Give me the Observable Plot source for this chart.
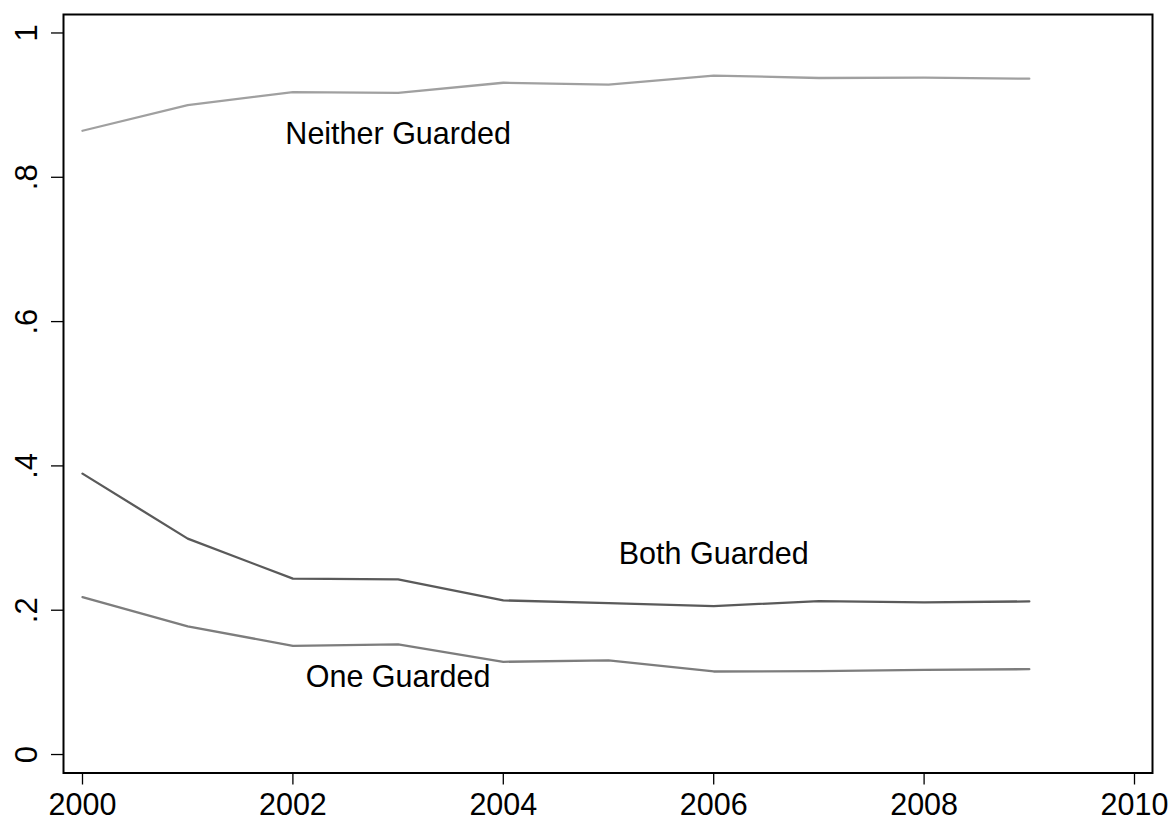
<!DOCTYPE html>
<html>
<head>
<meta charset="utf-8">
<script src="https://cdn.jsdelivr.net/npm/d3@7"></script>
<script src="https://cdn.jsdelivr.net/npm/@observablehq/plot@0.6"></script>
<style>
  html, body { margin: 0; padding: 0; background: #fff; }
</style>
</head>
<body>
<div id="chart"></div>
<script>
// ---- data ----
const years = [2000, 2001, 2002, 2003, 2004, 2005, 2006, 2007, 2008, 2009];
const neitherGuarded = [0.8645, 0.900, 0.918, 0.917, 0.931, 0.9285, 0.941, 0.9376, 0.938, 0.9366];
const bothGuarded    = [0.3893, 0.2992, 0.2437, 0.2427, 0.2136, 0.2099, 0.2057, 0.2127, 0.2108, 0.2122];
const oneGuarded     = [0.2182, 0.1775, 0.1507, 0.1526, 0.1285, 0.1304, 0.1151, 0.1156, 0.1174, 0.1183];

const seriesNames = ["Neither Guarded", "Both Guarded", "One Guarded"];
const seriesValues = [neitherGuarded, bothGuarded, oneGuarded];

const labelText  = ["Neither Guarded", "Both Guarded", "One Guarded"];
const labelYear  = [2003, 2006, 2003];
const labelValue = [0.8602, 0.2777, 0.1068];

const xTicks = [2000, 2002, 2004, 2006, 2008, 2010];
const yTicks = [0, 0.2, 0.4, 0.6, 0.8, 1];
const yTickLabels = ["0", ".2", ".4", ".6", ".8", "1"];

// ---- derived tables ----
const rows = [];
seriesNames.forEach((s, i) => {
  years.forEach((yr, j) => rows.push({series: s, year: yr, value: seriesValues[i][j]}));
});
const labels = labelText.map((t, i) => ({text: t, year: labelYear[i], value: labelValue[i]}));
const yLab = yTicks.map((v, i) => ({value: v, label: yTickLabels[i]}));

const seriesColors = ["#a0a0a0", "#5a5a5a", "#7d7d7d"];

const chart = Plot.plot({
  width: 1173,
  height: 821,
  marginLeft: 63,
  marginRight: 21,
  marginTop: 14,
  marginBottom: 48.5,
  style: {fontFamily: "'Liberation Sans', Arial, sans-serif", fontSize: "30px", color: "black", background: "white"},
  x: {domain: [2000 - 19 / 105.2, 2010 + 18 / 105.2]},
  y: {domain: [-0.0256, 1.0256]},
  color: {domain: seriesNames, range: seriesColors},
  marks: [
    Plot.line(rows, {x: "year", y: "value", z: "series", stroke: "series", strokeWidth: 2.3}),
    Plot.text(labels, {x: "year", y: "value", text: "text", fill: "black", fontSize: 30.5, textAnchor: "middle", lineAnchor: "middle"}),
    Plot.frame({stroke: "black", strokeWidth: 2}),
    Plot.axisX({ticks: xTicks, tickSize: 12, tickPadding: 8, tickFormat: d => String(d), label: null, strokeWidth: 1.3, fontSize: 30.5}),
    Plot.axisY({ticks: yTicks, tickSize: 12, tickFormat: () => "", label: null, strokeWidth: 1.3}),
    Plot.text(yLab, {y: "value", text: "label", frameAnchor: "left", dx: -36, rotate: -90, textAnchor: "middle", lineAnchor: "middle", fill: "black", fontSize: 31})
  ]
});
document.getElementById("chart").appendChild(chart);
</script>
</body>
</html>
